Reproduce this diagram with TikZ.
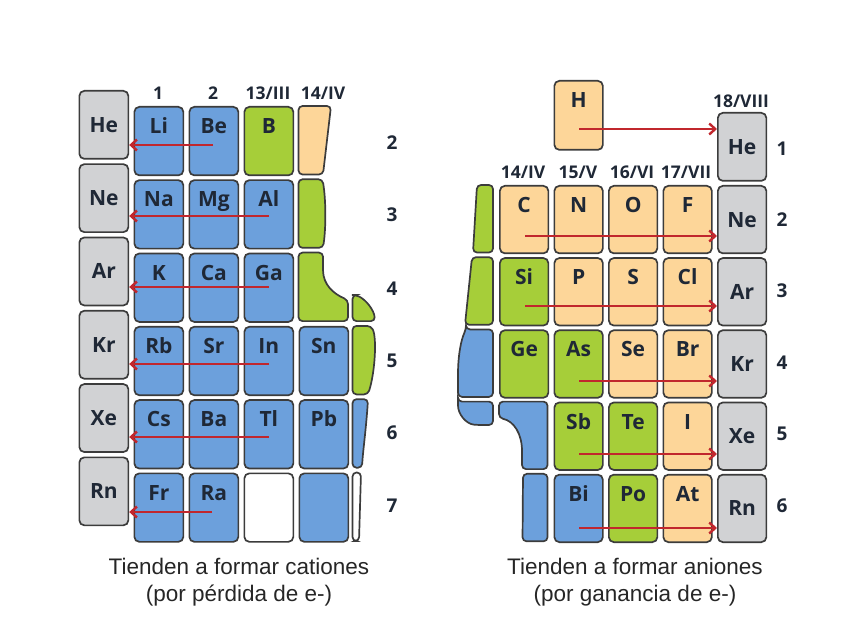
\documentclass[tikz,border=0pt]{standalone}
\usepackage{fontspec}
\setmainfont{Liberation Sans}
\newfontfamily\osans{Open Sans}
\usetikzlibrary{calc,arrows.meta}
\definecolor{eblue}{HTML}{6CA0DC}
\definecolor{egreen}{HTML}{A6CE39}
\definecolor{eorange}{HTML}{FDD699}
\definecolor{egrey}{HTML}{D1D2D4}
\definecolor{edge}{HTML}{3C3C3C}
\definecolor{etext}{HTML}{1F2836}
\definecolor{earrow}{HTML}{C1272D}
\tikzset{
 cellbox/.style={draw=edge,line width=1.7pt,rounded corners=5pt,inner sep=0pt,anchor=north west},
 shapebox/.style={draw=edge,line width=1.7pt,rounded corners=4pt},
 sym/.style={font=\osans\bfseries\fontsize{21}{23}\selectfont,text=etext,inner sep=0pt,text height=15pt,text depth=0pt},
 hdr/.style={font=\osans\bfseries\fontsize{17.5}{19}\selectfont,text=etext,inner sep=0pt},
 per/.style={font=\osans\bfseries\fontsize{19}{21}\selectfont,text=etext,inner sep=0pt},
 captext/.style={font=\fontsize{22.5}{27}\selectfont,text=black!85,inner sep=0pt,anchor=base},
 arr/.style={draw=earrow,line width=2.4pt,-{Straight Barb[length=6pt,width=11pt]}},
}
\newcommand\ecell[7]{\node[cellbox,fill=#6,minimum width=#4pt,minimum height=#5pt] (#1) at (#2,#3) {};
\node[sym] (#1t) at ($(#1.north)+(0,20)$) {#7};}
\newcommand\gcell[6]{\node[cellbox,fill=egrey,minimum width=#4pt,minimum height=#5pt] (#1) at (#2,#3) {};
\node[sym] (#1t) at (#1.center) {#6};}
\begin{document}
\begin{tikzpicture}[x=1pt,y=-1pt]
\useasboundingbox (0,0) rectangle (848,636);
% ---------------- LEFT TABLE ----------------
\gcell{LHe}{78.5}{90}{49}{68}{He}
\gcell{LNe}{78.5}{163.3}{49}{68}{Ne}
\gcell{LAr}{78.5}{236.6}{49}{68}{Ar}
\gcell{LKr}{78.5}{309.9}{49}{68}{Kr}
\gcell{LXe}{78.5}{383.2}{49}{68}{Xe}
\gcell{LRn}{78.5}{456.5}{49}{68}{Rn}
\ecell{Li}{133.5}{106}{49}{68.5}{eblue}{Li}
\ecell{Be}{188.5}{106}{49}{68.5}{eblue}{Be}
\ecell{B}{243.5}{106}{49}{68.5}{egreen}{B}
\ecell{Na}{133.5}{179.3}{49}{68.5}{eblue}{Na}
\ecell{Mg}{188.5}{179.3}{49}{68.5}{eblue}{Mg}
\ecell{Al}{243.5}{179.3}{49}{68.5}{eblue}{Al}
\ecell{K}{133.5}{252.6}{49}{68.5}{eblue}{K}
\ecell{Ca}{188.5}{252.6}{49}{68.5}{eblue}{Ca}
\ecell{Ga}{243.5}{252.6}{49}{68.5}{eblue}{Ga}
\ecell{Rb}{133.5}{325.9}{49}{68.5}{eblue}{Rb}
\ecell{Sr}{188.5}{325.9}{49}{68.5}{eblue}{Sr}
\ecell{In}{243.5}{325.9}{49}{68.5}{eblue}{In}
\ecell{Sn}{298.5}{325.9}{49}{68.5}{eblue}{Sn}
\ecell{Cs}{133.5}{399.2}{49}{68.5}{eblue}{Cs}
\ecell{Ba}{188.5}{399.2}{49}{68.5}{eblue}{Ba}
\ecell{Tl}{243.5}{399.2}{49}{68.5}{eblue}{Tl}
\ecell{Pb}{298.5}{399.2}{49}{68.5}{eblue}{Pb}
\ecell{Fr}{133.5}{472.5}{49}{68.5}{eblue}{Fr}
\ecell{Ra}{188.5}{472.5}{49}{68.5}{eblue}{Ra}
\ecell{Wc}{243.5}{472.5}{49}{68.5}{white}{}
\ecell{Bc}{298.5}{472.5}{49}{68.5}{eblue}{}
% partial shapes
\path[shapebox,fill=eorange] (298.5,106) -- (331,106) -- (323,174.5) -- (298.5,174.5) -- cycle;
\path[shapebox,fill=egreen] (298.5,179.3) -- (322.5,179.3) .. controls (326,200) and (326,228) .. (323,247.8) -- (298.5,247.8) -- cycle;
\path[shapebox,fill=egreen] (298.5,252.6) -- (323,252.6) -- (323,266) .. controls (323,285) and (334,294) .. (348,300) -- (348,321.1) -- (298.5,321.1) -- cycle;
\path[shapebox,fill=egreen] (352.5,295) -- (356,295) .. controls (366,300) and (374,310) .. (375,321.1) -- (352.5,321.1) -- cycle;
\path[shapebox,fill=egreen] (352.5,325.9) -- (371,325.9) .. controls (377,338) and (375,372) .. (368,394.4) -- (352.5,394.4) -- cycle;
\path[shapebox,fill=eblue] (352.5,399.2) -- (368,399.2) .. controls (366,430) and (363,450) .. (362,467.7) -- (352.5,467.7) -- cycle;
\path[shapebox,fill=white] (352.5,472.5) -- (361,472.5) -- (359,541) -- (352.5,541) -- cycle;
% headers
\node[hdr] (hl1) at (158,93) {1};
\node[hdr] (hl2) at (213,93) {2};
\node[hdr] (hl13) at (268,93) {13/III};
\node[hdr] (hl14) at (323,93) {14/IV};
\node[per] (pl2) at (392,143) {2};
\node[per] (pl3) at (392,215) {3};
\node[per] (pl4) at (392,289) {4};
\node[per] (pl5) at (392,361) {5};
\node[per] (pl6) at (392,433) {6};
\node[per] (pl7) at (392,506) {7};
% arrows
\coordinate (la2) at (213,145);
\coordinate (la3) at (269,216);
\coordinate (la4) at (269,287);
\coordinate (la5) at (269,364);
\coordinate (la6) at (269,437);
\coordinate (la7) at (212,512);
\draw[arr] (la2) -- (la2 -| LHe.east);
\draw[arr] (la3) -- (la3 -| LHe.east);
\draw[arr] (la4) -- (la4 -| LHe.east);
\draw[arr] (la5) -- (la5 -| LHe.east);
\draw[arr] (la6) -- (la6 -| LHe.east);
\draw[arr] (la7) -- (la7 -| LHe.east);
% ---------------- RIGHT TABLE ----------------
\ecell{H}{553.5}{80}{48.5}{69}{eorange}{H}
\gcell{RHe}{717}{112}{48.5}{68}{He}
\gcell{RNe}{717}{185}{48.5}{67.5}{Ne}
\gcell{RAr}{717}{257.2}{48.5}{67.5}{Ar}
\gcell{RKr}{717}{329.4}{48.5}{67.5}{Kr}
\gcell{RXe}{717}{401.6}{48.5}{67.5}{Xe}
\gcell{RRn}{717}{473.8}{48.5}{67.5}{Rn}
\ecell{C}{499}{185}{48.5}{67.5}{eorange}{C}
\ecell{N}{553.5}{185}{48.5}{67.5}{eorange}{N}
\ecell{O}{608}{185}{48.5}{67.5}{eorange}{O}
\ecell{F}{662.5}{185}{48.5}{67.5}{eorange}{F}
\ecell{Si}{499}{257.2}{48.5}{67.5}{egreen}{Si}
\ecell{P}{553.5}{257.2}{48.5}{67.5}{eorange}{P}
\ecell{S}{608}{257.2}{48.5}{67.5}{eorange}{S}
\ecell{Cl}{662.5}{257.2}{48.5}{67.5}{eorange}{Cl}
\ecell{Ge}{499}{329.4}{48.5}{67.5}{egreen}{Ge}
\ecell{As}{553.5}{329.4}{48.5}{67.5}{egreen}{As}
\ecell{Se}{608}{329.4}{48.5}{67.5}{eorange}{Se}
\ecell{Br}{662.5}{329.4}{48.5}{67.5}{eorange}{Br}
\ecell{Sb}{553.5}{401.6}{48.5}{67.5}{egreen}{Sb}
\ecell{Te}{608}{401.6}{48.5}{67.5}{egreen}{Te}
\ecell{I}{662.5}{401.6}{48.5}{67.5}{eorange}{I}
\ecell{Bi}{553.5}{473.8}{48.5}{67.5}{eblue}{Bi}
\ecell{Po}{608}{473.8}{48.5}{67.5}{egreen}{Po}
\ecell{At}{662.5}{473.8}{48.5}{67.5}{eorange}{At}
% partial shapes
\path[shapebox,fill=egreen] (477,185) -- (493,185) -- (493,252.5) -- (473,252.5) -- cycle;
\path[shapebox,fill=egreen] (472,257.2) -- (493,257.2) -- (493,324.7) -- (465,324.7) -- cycle;
\path[shapebox,fill=eblue] (466,329.4) -- (493,329.4) -- (493,396.9) -- (458,396.9) -- (458,378) .. controls (458,356) and (461,340) .. (466,329.4) -- cycle;
\path[shapebox,fill=eblue] (458,401.6) -- (493,401.6) -- (493,425) -- (478,425) .. controls (466,424) and (458,414) .. (458,401.6) -- cycle;
\path[shapebox,fill=eblue] (499,401.6) -- (547.5,401.6) -- (547.5,469.1) -- (522,469.1) -- (522,455) .. controls (522,434) and (514,421) .. (499,418) -- cycle;
\path[shapebox,fill=eblue] (523,473.8) -- (547.5,473.8) -- (547.5,541.3) -- (522.5,541.3) -- cycle;
% headers
\node[hdr] (hr18) at (741,101) {18/VIII};
\node[hdr] (hr14) at (523,172) {14/IV};
\node[hdr] (hr15) at (578,172) {15/V};
\node[hdr] (hr16) at (632,172) {16/VI};
\node[hdr] (hr17) at (686,172) {17/VII};
\node[per] (pr1) at (782,149) {1};
\node[per] (pr2) at (782,220) {2};
\node[per] (pr3) at (782,291) {3};
\node[per] (pr4) at (782,363) {4};
\node[per] (pr5) at (782,434) {5};
\node[per] (pr6) at (782,506) {6};
% arrows
\coordinate (ra1) at (579,129);
\coordinate (ra2) at (525,236);
\coordinate (ra3) at (525,306);
\coordinate (ra4) at (579,381);
\coordinate (ra5) at (579,454);
\coordinate (ra6) at (579,528);
\draw[arr] (ra1) -- (ra1 -| RHe.west);
\draw[arr] (ra2) -- (ra2 -| RHe.west);
\draw[arr] (ra3) -- (ra3 -| RHe.west);
\draw[arr] (ra4) -- (ra4 -| RHe.west);
\draw[arr] (ra5) -- (ra5 -| RHe.west);
\draw[arr] (ra6) -- (ra6 -| RHe.west);
% captions
\node[captext] (capL1) at (239,574) {Tienden a formar cationes};
\node[captext] (capL2) at (239,601) {(por pérdida de e-)};
\node[captext] (capR1) at (635,574) {Tienden a formar aniones};
\node[captext] (capR2) at (635,601) {(por ganancia de e-)};
\end{tikzpicture}
\end{document}
